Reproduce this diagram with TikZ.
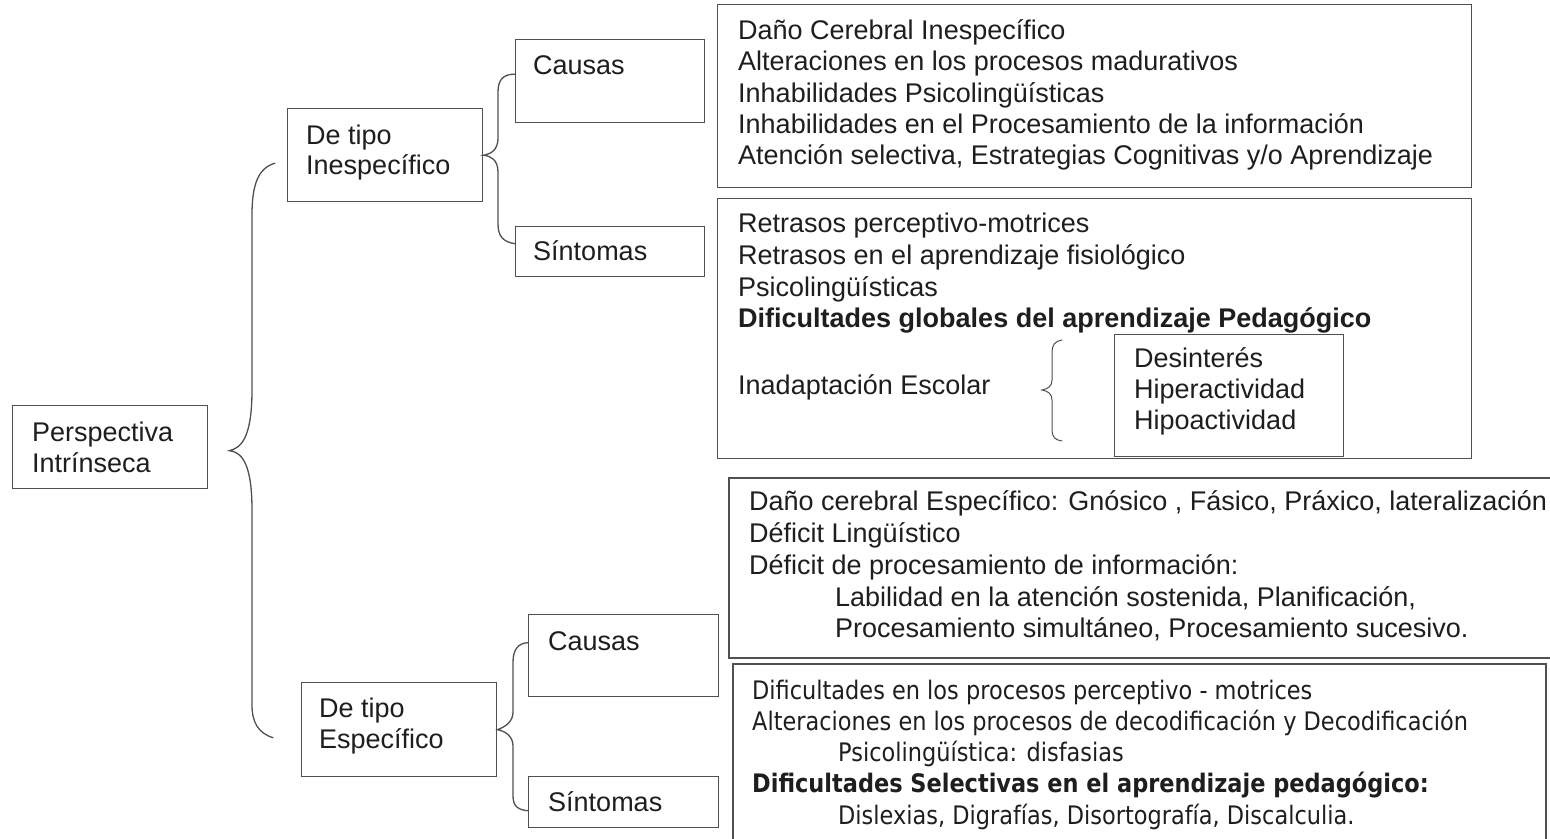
\documentclass[tikz,border=0pt]{standalone}
\usepackage{fontspec}
\newfontfamily\arialfont{Liberation Sans}
\newfontfamily\tahomafont{DejaVu Sans}[FakeStretch=0.88]
\definecolor{linegray}{HTML}{505050}
\definecolor{inkgray}{HTML}{1E1E1E}
\tikzset{
  box/.style={draw=linegray, line width=1.4pt, inner sep=0pt, anchor=north west},
  lbl/.style={inner sep=0pt, anchor=west, text height=19.5pt, text depth=0pt, text=inkgray, font=\arialfont\fontsize{27}{31}\selectfont},
  lbld/.style={lbl, text height=18.5pt, font=\tahomafont\fontsize{25.5}{31}\selectfont},
  brace/.style={draw=linegray, line width=1.3pt, line cap=round},
}
\begin{document}
\begin{tikzpicture}[x=1pt, y=-1pt]
\useasboundingbox (0,0) rectangle (1550,838);
\fill[white] (0,0) rectangle (1550,838);

% left column
\node (persp) [box, minimum width=195pt, minimum height=83pt] at (12,405) {};
\node (perspT1) [lbl] at (32,432) {Perspectiva};
\node (perspT2) [lbl] at (32,463) {Intrínseca};

\node (inesp) [box, minimum width=195pt, minimum height=93pt] at (287,108) {};
\node (inespT1) [lbl] at (306,135) {De tipo};
\node (inespT2) [lbl] at (306,165) {Inespecífico};

\node (esp) [box, minimum width=195pt, minimum height=94pt] at (301,682) {};
\node (espT1) [lbl] at (319,708) {De tipo};
\node (espT2) [lbl] at (319,739) {Específico};

% causas / sintomas
\node (cauA) [box, minimum width=189pt, minimum height=83pt] at (515,39) {};
\node (cauAT) [lbl] at (533,65) {Causas};
\node (sinA) [box, minimum width=189pt, minimum height=50pt] at (515,226) {};
\node (sinAT) [lbl] at (533,251) {Síntomas};

\node (cauB) [box, minimum width=190pt, minimum height=82pt] at (528,614) {};
\node (cauBT) [lbl] at (548,641) {Causas};
\node (sinB) [box, minimum width=190pt, minimum height=51pt] at (528,776) {};
\node (sinBT) [lbl] at (548,802) {Síntomas};

% text boxes
\node (boxA) [box, minimum width=754pt, minimum height=183pt] at (717,4) {};
\foreach \line [count=\i] in {Daño Cerebral Inespecífico, Alteraciones en los procesos madurativos,
    Inhabilidades Psicolingüísticas, Inhabilidades en el Procesamiento de la información,
    {Atención selectiva, Estrategias Cognitivas y/o Aprendizaje}}
  \node (a\i) [lbl] at (738,{30+31.2*(\i-1)}) {\line};

\node (boxB) [box, minimum width=754pt, minimum height=260pt] at (717,198) {};
\foreach \line [count=\i] in {Retrasos perceptivo-motrices, Retrasos en el aprendizaje fisiológico,
    Psicolingüísticas, \textbf{Dificultades globales del aprendizaje Pedagógico}}
  \node (b\i) [lbl] at (738,{223+31.7*(\i-1)}) {\line};
\node (inadap) [lbl] at (738,385) {Inadaptación Escolar};
\node (boxI) [box, minimum width=229pt, minimum height=122pt] at (1114,334) {};
\foreach \line [count=\i] in {Desinterés, Hiperactividad, Hipoactividad}
  \node (i\i) [lbl] at (1134,{358+31*(\i-1)}) {\line};

\draw[linegray, line width=1.4pt] (1552,478) -- (729,478) -- (729,658) -- (1552,658);
\foreach \x/\line [count=\i] in {749/{Daño cerebral Específico: Gnósico , Fásico, Práxico, lateralización},
    749/{Déficit Lingüístico}, 749/{Déficit de procesamiento de información:},
    835/{Labilidad en la atención sostenida, Planificación,},
    835/{Procesamiento simultáneo, Procesamiento sucesivo.}}
  \node (c\i) [lbl] at (\x,{501+31.8*(\i-1)}) {\line};

\draw[linegray, line width=1.4pt] (733,840) -- (733,664) -- (1546,664) -- (1546,840);
\foreach \x/\line [count=\i] in {752/{Dificultades en los procesos perceptivo - motrices},
    752/{Alteraciones en los procesos de decodificación y Decodificación},
    838/{Psicolingüística: disfasias},
    752/{\textbf{Dificultades Selectivas en el aprendizaje pedagógico:}},
    838/{Dislexias, Digrafías, Disortografía, Discalculia.}}
  \node (d\i) [lbld] at (\x,{690+31.2*(\i-1)}) {\line};

% braces
\draw[brace] ([xshift=-12pt,yshift=-8pt]inesp.west) .. controls (258,168) and (252,185) .. (252,215)
  -- (252,390) .. controls (252,440) and (240,448) .. ([xshift=21pt,yshift=-3.5pt]persp.east)
  .. controls (240,452) and (252,460) .. (252,510)
  -- (252,705) .. controls (252,722) and (258,733) .. ([xshift=-28pt,yshift=-8pt]esp.west);

\draw[brace] ([yshift=7pt]cauA.west) .. controls (503,74) and (498,80) .. (498,92)
  -- (498,138) .. controls (498,150) and (491,154) .. (inesp.east)
  .. controls (491,156) and (498,160) .. (498,172)
  -- (498,224) .. controls (498,236) and (503,242) .. ([yshift=8pt]sinA.west);

\draw[brace] ([yshift=13pt]cauB.west) .. controls (518,643) and (513,650) .. (513,662)
  -- (513,712) .. controls (513,722) and (505,727) .. (esp.east)
  .. controls (505,731) and (513,736) .. (513,746)
  -- (513,796) .. controls (513,806) and (518,810) .. ([yshift=-8.5pt]sinB.west);

\draw[brace, line width=1pt] (1062,340) .. controls (1055,341) and (1052,345) .. (1052,352)
  -- (1052,380) .. controls (1052,386) and (1048,389) .. (1042,390)
  .. controls (1048,391) and (1052,394) .. (1052,400)
  -- (1052,430) .. controls (1052,437) and (1055,440) .. (1062,441);
\end{tikzpicture}
\end{document}
